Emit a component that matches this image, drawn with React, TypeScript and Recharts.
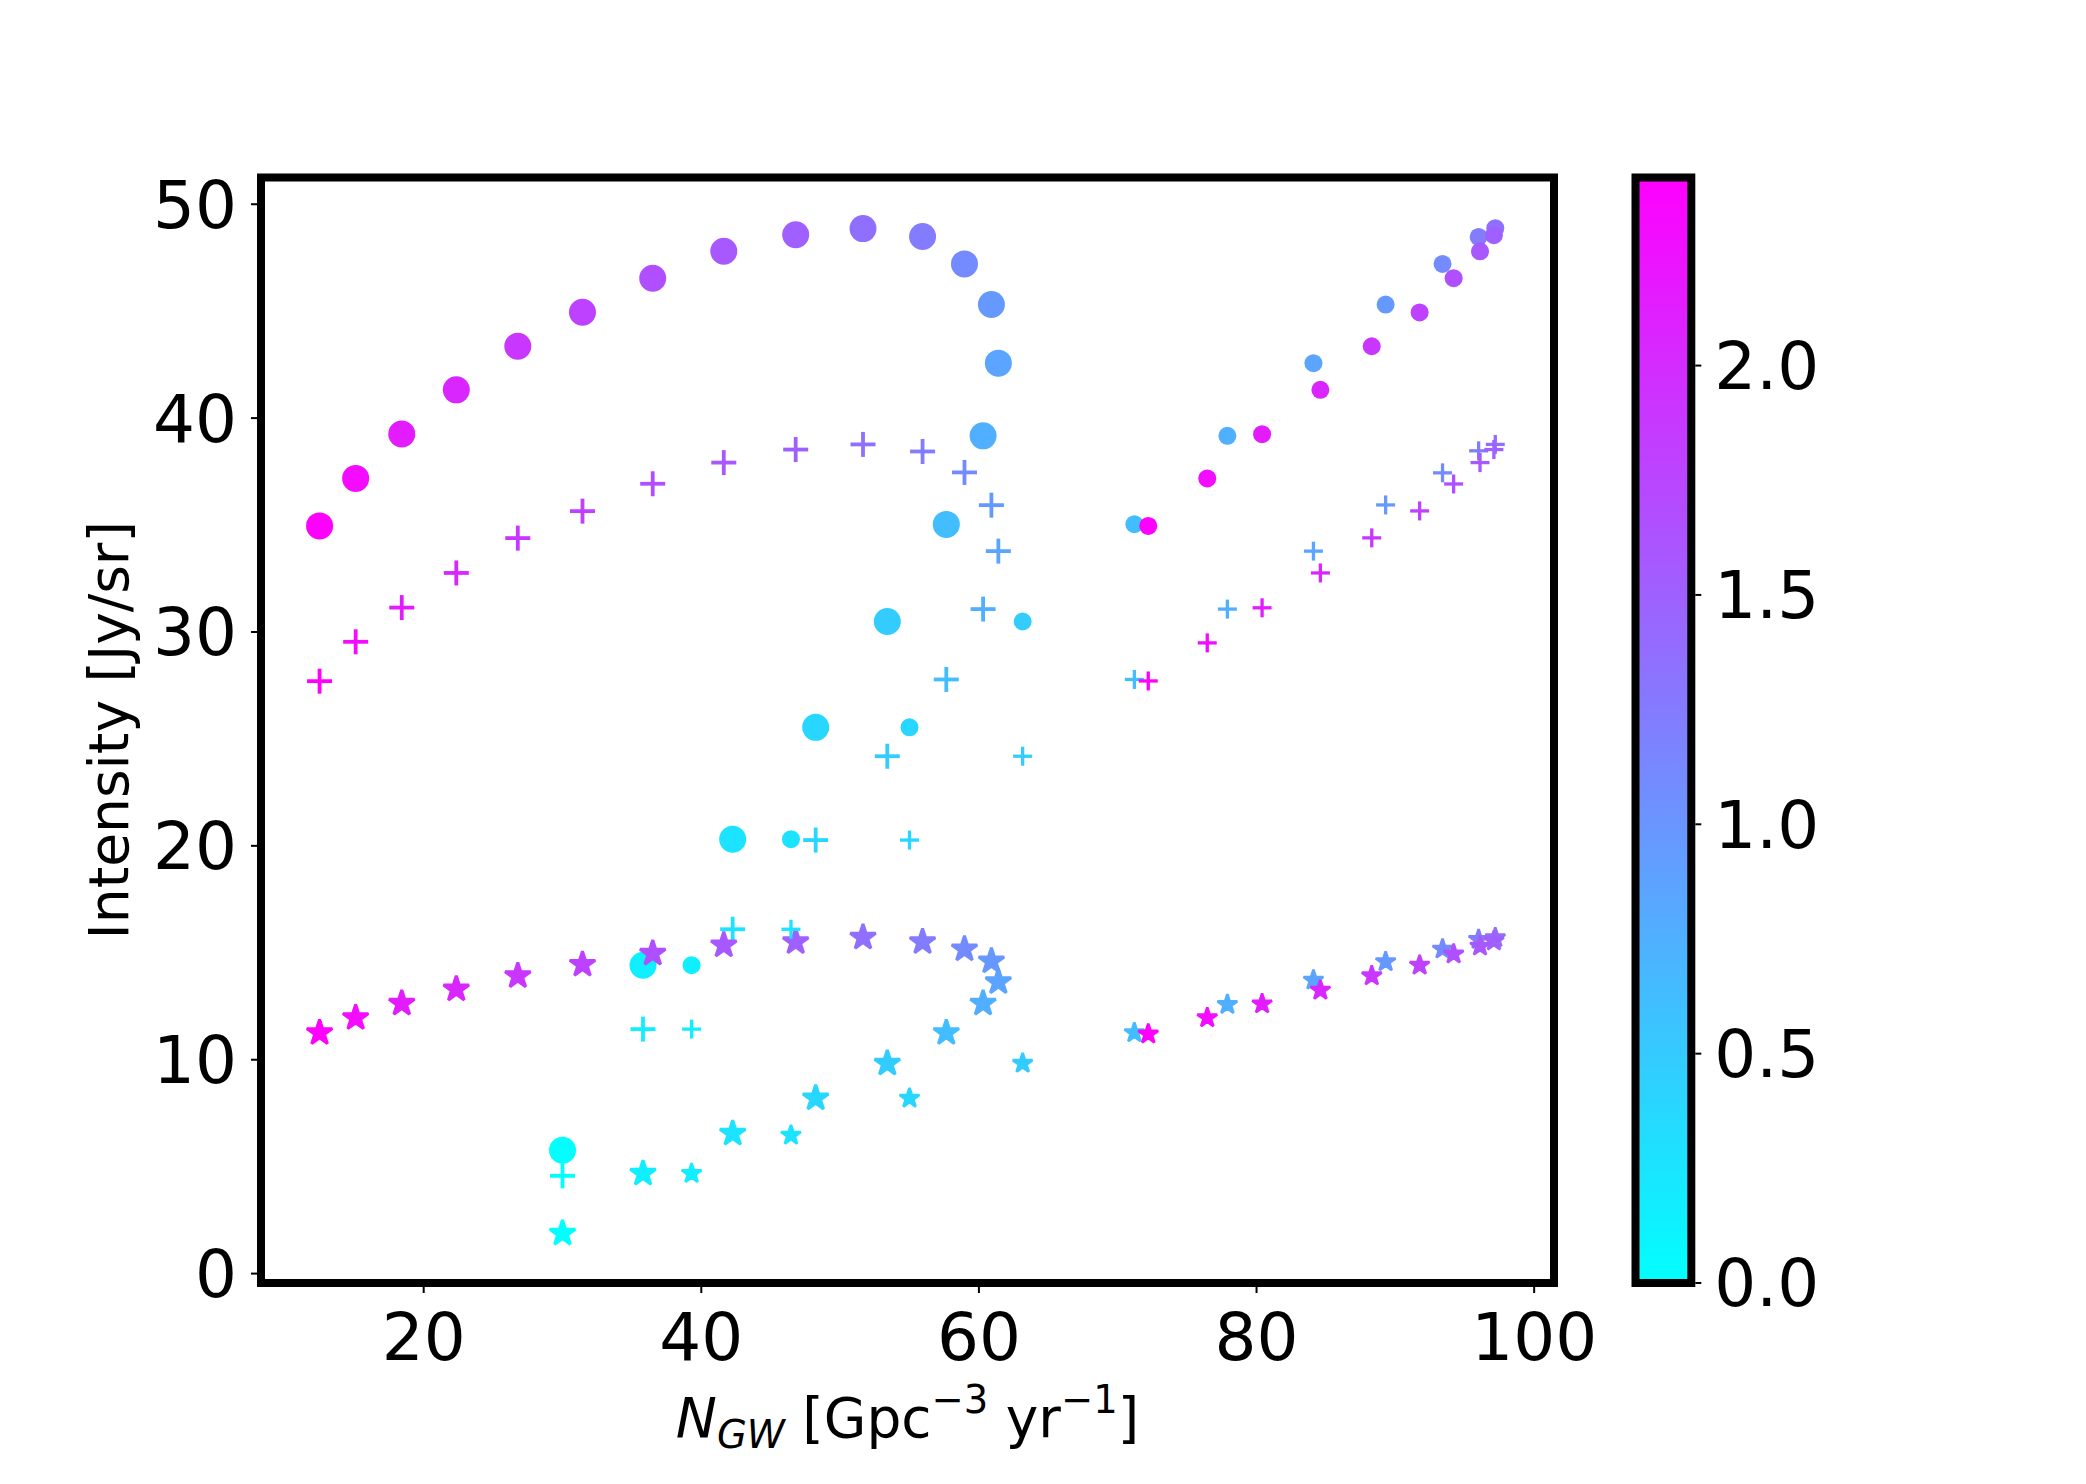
import { ScatterChart, Scatter, XAxis, YAxis, ReferenceArea } from 'recharts';

// family A (large markers), ordered by colour value, cyan first
const zA = [0.0, 0.15, 0.26, 0.38, 0.48, 0.62, 0.76, 0.86, 0.96, 1.1, 1.24, 1.36, 1.5, 1.58, 1.66, 1.8, 1.9, 2.05, 2.15, 2.3, 2.41];
const xA = [30.0, 35.8, 42.26, 48.24, 53.4, 57.65, 60.3, 61.4, 60.9, 58.96, 55.94, 51.65, 46.8, 41.62, 36.5, 31.44, 26.78, 22.35, 18.42, 15.1, 12.5];
const circleA = [5.77, 14.42, 20.31, 25.54, 30.49, 35.03, 39.17, 42.57, 45.31, 47.21, 48.49, 48.86, 48.57, 47.8, 46.54, 44.95, 43.36, 41.32, 39.26, 37.18, 34.96];
const plusA = [4.57, 11.43, 16.1, 20.27, 24.19, 27.78, 31.07, 33.78, 35.93, 37.46, 38.44, 38.77, 38.53, 37.92, 36.93, 35.65, 34.39, 32.76, 31.14, 29.54, 27.7];
const starA = [1.88, 4.68, 6.55, 8.2, 9.83, 11.26, 12.63, 13.64, 14.61, 15.17, 15.51, 15.72, 15.51, 15.36, 14.97, 14.45, 13.92, 13.3, 12.63, 11.96, 11.26];

// family B (small markers)
const zB = [0.15, 0.26, 0.38, 0.48, 0.62, 0.76, 0.86, 0.96, 1.1, 1.24, 1.36, 1.5, 1.58, 1.66, 1.8, 1.9, 2.05, 2.15, 2.3, 2.41];
const xB = [39.3, 46.46, 55.0, 63.15, 71.2, 77.9, 84.1, 89.3, 93.4, 96.0, 97.2, 97.1, 96.1, 94.2, 91.75, 88.3, 84.6, 80.4, 76.45, 72.2];
const circleB = [14.42, 20.31, 25.54, 30.49, 35.04, 39.17, 42.57, 45.31, 47.21, 48.47, 48.88, 48.55, 47.8, 46.54, 44.94, 43.36, 41.32, 39.25, 37.18, 34.96];
const plusB = [11.43, 16.1, 20.27, 24.19, 27.78, 31.07, 33.78, 35.94, 37.44, 38.47, 38.77, 38.53, 37.92, 36.92, 35.66, 34.4, 32.76, 31.13, 29.49, 27.71];
const starB = [4.68, 6.47, 8.2, 9.83, 11.26, 12.58, 13.72, 14.58, 15.17, 15.62, 15.7, 15.55, 15.31, 14.94, 14.42, 13.92, 13.25, 12.61, 11.96, 11.2];

const xTicks = [20, 40, 60, 80, 100];
const yTicks = [0, 10, 20, 30, 40, 50];
const cbarTicks = [0, 0.5, 1, 1.5, 2];
const cbarLabels = ['0.0', '0.5', '1.0', '1.5', '2.0'];

const W = 2086;
const H = 1484;
const PLOT = { left: 261, right: 1554, top: 177.5, bottom: 1283 };
const CBAR = { left: 1635.5, right: 1691.3 };
const FONT = '"DejaVu Sans", sans-serif';
const TICK_FS = 66;
const LABEL_FS = 55;

const xDomain: [number, number] = [8.28, 101.43];
const yDomain: [number, number] = [-0.44, 51.25];

const zMax = Math.max(...zA, ...zB);

// matplotlib "cool" colormap
function cool(z: number) {
  const t = Math.min(1, Math.max(0, z / zMax));
  return `rgb(${Math.round(255 * t)},${Math.round(255 * (1 - t))},255)`;
}

type Pt = { x: number; y: number; z: number };
const zip = (xs: number[], ys: number[], zs: number[]): Pt[] =>
  xs.map((x, i) => ({ x, y: ys[i], z: zs[i] }));

const circleShape = (r: number) => (p: any) => (
  <circle cx={p.cx} cy={p.cy} r={r} fill={cool(p.payload.z)} />
);

const plusShape = (h: number, w: number) => (p: any) => {
  const c = cool(p.payload.z);
  return (
    <g stroke={c} strokeWidth={w} strokeLinecap="butt">
      <line x1={p.cx - h} y1={p.cy} x2={p.cx + h} y2={p.cy} />
      <line x1={p.cx} y1={p.cy - h} x2={p.cx} y2={p.cy + h} />
    </g>
  );
};

function starPath(cx: number, cy: number, R: number) {
  const r = R * 0.381966;
  let d = '';
  for (let k = 0; k < 10; k++) {
    const a = -Math.PI / 2 + (k * Math.PI) / 5;
    const rr = k % 2 === 0 ? R : r;
    d += (k ? 'L' : 'M') + (cx + rr * Math.cos(a)).toFixed(2) + ',' + (cy + rr * Math.sin(a)).toFixed(2);
  }
  return d + 'Z';
}

// star with a same-colour edge, like matplotlib's scatter markers
const starShape = (R: number, edge: number) => (p: any) => {
  const c = cool(p.payload.z);
  return (
    <path d={starPath(p.cx, p.cy, R)} fill={c} stroke={c} strokeWidth={edge} strokeLinejoin="bevel" />
  );
};

export default function App() {
  const tickStyle = { fill: '#000', fontSize: TICK_FS, fontFamily: FONT };
  const cbH = PLOT.bottom - PLOT.top;

  return (
    <div style={{ position: 'fixed', left: 0, top: 0, width: W, height: H, background: '#fff' }}>
      <ScatterChart
        width={W}
        height={H}
        margin={{ top: PLOT.top, right: W - PLOT.right, bottom: 0, left: 0 }}
      >
        <XAxis
          type="number"
          dataKey="x"
          domain={xDomain}
          ticks={xTicks}
          interval={0}
          allowDataOverflow
          height={H - PLOT.bottom}
          axisLine={false}
          tickLine={{ stroke: '#000', strokeWidth: 2 }}
          tickSize={10}
          tickMargin={20}
          tick={tickStyle}
        />
        <YAxis
          type="number"
          dataKey="y"
          domain={yDomain}
          ticks={yTicks}
          interval={0}
          allowDataOverflow
          width={PLOT.left}
          axisLine={false}
          tickLine={{ stroke: '#000', strokeWidth: 2 }}
          tickSize={10}
          tickMargin={14}
          tick={tickStyle}
        />
        <ReferenceArea
          x1={xDomain[0]}
          x2={xDomain[1]}
          y1={yDomain[0]}
          y2={yDomain[1]}
          fill="none"
          fillOpacity={0}
          stroke="#000"
          strokeWidth={8}
        />
        <Scatter data={zip(xA, circleA, zA)} shape={circleShape(13.5)} isAnimationActive={false} />
        <Scatter data={zip(xA, plusA, zA)} shape={plusShape(12.5, 3.8)} isAnimationActive={false} />
        <Scatter data={zip(xA, starA, zA)} shape={starShape(13.4, 3)} isAnimationActive={false} />
        <Scatter data={zip(xB, circleB, zB)} shape={circleShape(9)} isAnimationActive={false} />
        <Scatter data={zip(xB, plusB, zB)} shape={plusShape(9.5, 3.3)} isAnimationActive={false} />
        <Scatter data={zip(xB, starB, zB)} shape={starShape(10.4, 2.6)} isAnimationActive={false} />
      </ScatterChart>

      <svg
        width={W}
        height={H}
        style={{ position: 'absolute', left: 0, top: 0, pointerEvents: 'none' }}
        fontFamily={FONT}
      >
        <defs>
          <linearGradient id="coolGrad" x1="0" y1="1" x2="0" y2="0">
            <stop offset="0" stopColor={cool(0)} />
            <stop offset="1" stopColor={cool(zMax)} />
          </linearGradient>
        </defs>

        {/* axis titles */}
        <text
          x={127.5}
          y={(PLOT.top + PLOT.bottom) / 2}
          transform={`rotate(-90, 127.5, ${(PLOT.top + PLOT.bottom) / 2})`}
          textAnchor="middle"
          fontSize={LABEL_FS}
          fill="#000"
        >
          Intensity [Jy/sr]
        </text>
        <text x={(PLOT.left + PLOT.right) / 2} y={1437} textAnchor="middle" fontSize={LABEL_FS} fill="#000">
          <tspan fontStyle="italic">N</tspan>
          <tspan fontStyle="italic" fontSize={38.5} dy={11}>GW</tspan>
          <tspan dy={-11}> [Gpc</tspan>
          <tspan fontSize={38.5} dy={-24}>−3</tspan>
          <tspan dy={24}> yr</tspan>
          <tspan fontSize={38.5} dy={-24}>−1</tspan>
          <tspan dy={24}>]</tspan>
        </text>

        {/* colorbar */}
        <rect
          x={CBAR.left}
          y={PLOT.top}
          width={CBAR.right - CBAR.left}
          height={cbH}
          fill="url(#coolGrad)"
          stroke="#000"
          strokeWidth={8}
        />
        {cbarTicks.map((t, i) => {
          const y = PLOT.bottom - (t / zMax) * cbH;
          return (
            <g key={t}>
              <line x1={CBAR.right + 4} y1={y} x2={CBAR.right + 10} y2={y} stroke="#000" strokeWidth={2} />
              <text x={CBAR.right + 23} y={y} dy="0.355em" fontSize={TICK_FS} fill="#000">
                {cbarLabels[i]}
              </text>
            </g>
          );
        })}
      </svg>
    </div>
  );
}
